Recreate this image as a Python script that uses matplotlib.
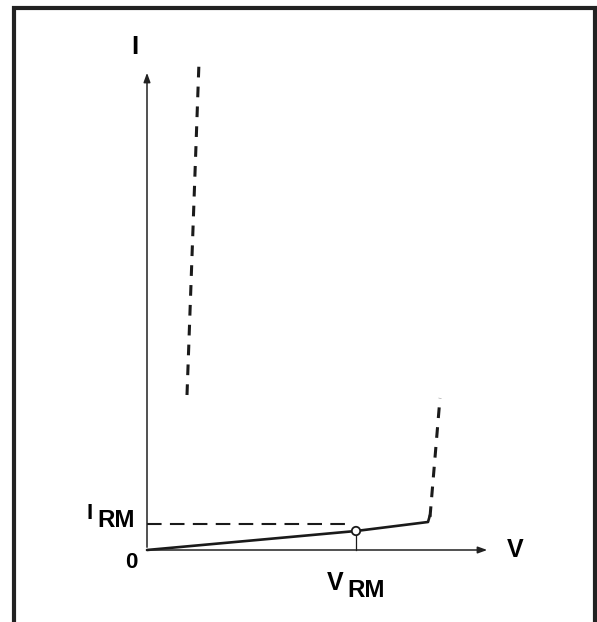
import numpy as np
import matplotlib.pyplot as plt
from matplotlib.patches import Circle
plt.rc('font', family='Liberation Sans', weight='bold')

# values (arbitrary units, origin at the axes crossing)
fwd_v = [0, 209, 281, 283]
fwd_i = [0, 19, 28, 35]
brk_v = [283, 293]
brk_i = [33, 152]
rev_v = [40, 52]
rev_i = [155, 488]
v_rm = 209
i_rm = 26
axis_v_max = 343
axis_i_max = 480

fig = plt.figure(figsize=(5.97, 6.22), dpi=100)
ax = fig.add_axes([0, 0, 1, 1])
ax.set_xlim(-147, 450)
ax.set_ylim(-72, 550)
ax.axis('off')

# frame (open at the bottom)
fx0, fx1, fy = 14 / 597, 595 / 597, 1 - 8 / 622
fig.add_artist(plt.Line2D([fx0, fx0, fx1, fx1], [0, fy, fy, 0], color='#222222',
                          lw=3, transform=fig.transFigure, solid_joinstyle='miter'))

# axes with arrows
ax.annotate('', xy=(axis_v_max, 0), xytext=(0, 0),
            arrowprops=dict(arrowstyle='-|>,head_length=0.55,head_width=0.2', color='#222222', lw=1.1))
ax.annotate('', xy=(0, axis_i_max), xytext=(0, 0),
            arrowprops=dict(arrowstyle='-|>,head_length=0.55,head_width=0.2', color='#222222', lw=1.1))

ax.plot(fwd_v, fwd_i, color='#1a1a1a', lw=1.9, solid_capstyle='round')
ax.plot(brk_v, brk_i, color='#1a1a1a', lw=2.2, ls=(0, (3.5, 3)))
ax.plot(rev_v, rev_i, color='#1a1a1a', lw=2.2, ls=(0, (3.5, 3)))

ax.plot([0, v_rm - 6], [i_rm, i_rm], color='#1a1a1a', lw=1.5, ls=(0, (7, 4)))
ax.plot([v_rm, v_rm], [0, fwd_i[1] - 4], color='#1a1a1a', lw=0.9)
ax.add_patch(Circle((v_rm, fwd_i[1]), 4.2, facecolor='white', edgecolor='#1a1a1a', lw=1.3, zorder=5))

ax.text(-12, 496, 'I', fontsize=18.5, ha='center', va='baseline')
ax.text(368, -7, 'V', fontsize=18, ha='center', va='baseline')
ax.text(-16, -18, '0', fontsize=16, ha='center', va='baseline')
ax.text(-61, 31, 'I', fontsize=16, ha='left', va='baseline')
ax.text(-50, 23, 'RM', fontsize=17.5, ha='left', va='baseline')
ax.text(180, -40, 'V', fontsize=18, ha='left', va='baseline')
ax.text(200, -47, 'RM', fontsize=17.5, ha='left', va='baseline')

plt.savefig('out.png', dpi=100)
plt.close()
